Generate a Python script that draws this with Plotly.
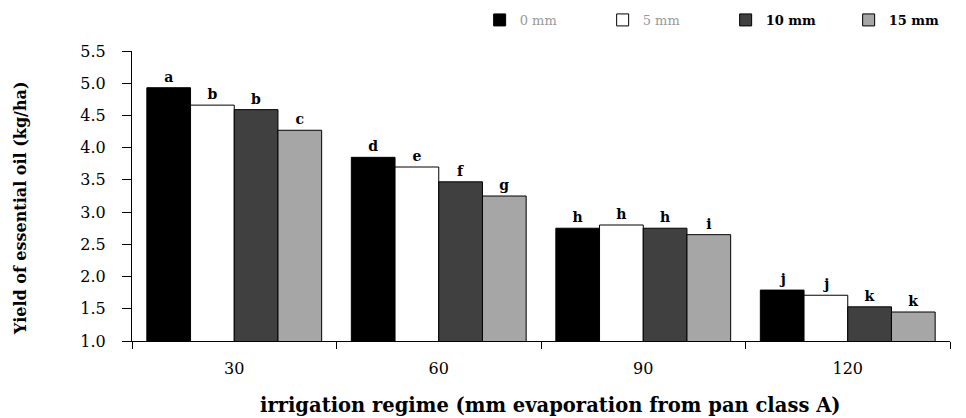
import plotly.graph_objects as go

categories = ["30", "60", "90", "120"]
series_names = ["0 mm", "5 mm", "10 mm", "15 mm"]
v0 = [4.93, 3.85, 2.75, 1.79]
v5 = [4.66, 3.70, 2.80, 1.71]
v10 = [4.59, 3.47, 2.75, 1.53]
v15 = [4.27, 3.25, 2.65, 1.45]
l0 = ["a", "d", "h", "j"]
l5 = ["b", "e", "h", "j"]
l10 = ["b", "f", "h", "k"]
l15 = ["c", "g", "i", "k"]
colors = ["#000000", "#ffffff", "#404040", "#a6a6a6"]
legend_styles = ["{}", "{}", "<span style='color:black'><b>{}</b></span>",
                 "<span style='color:black'><b>{}</b></span>"]

ff = "DejaVu Serif, Liberation Serif, serif"

fig = go.Figure()
for name, vals, labs, col, sty in zip(series_names, [v0, v5, v10, v15],
                                      [l0, l5, l10, l15], colors, legend_styles):
    fig.add_trace(go.Bar(
        name=sty.format(name), x=categories, y=vals, text=labs,
        textposition="outside", cliponaxis=False,
        textfont=dict(family=ff, size=14, color="black", weight="bold"),
        marker=dict(color=col, line=dict(color="black", width=1)),
    ))

fig.update_layout(
    width=958, height=410,
    margin=dict(l=124, r=16, t=43, b=77, autoexpand=False),
    paper_bgcolor="white", plot_bgcolor="white",
    barmode="group", bargap=0.145, bargroupgap=0,
    font=dict(family=ff, size=13, color="black"),
    showlegend=True,
    legend=dict(orientation="h", x=0.425, xanchor="left", y=1.107, yanchor="middle",
                entrywidth=78, entrywidthmode="pixels",
                font=dict(family=ff, size=13, color="#999999"),
                bgcolor="rgba(0,0,0,0)"),
    annotations=[
        dict(text="<b>Yield of essential oil (kg/ha)</b>", textangle=-90,
             xref="paper", yref="paper", x=(12 - 124) / 818, y=(333 - 200) / 290,
             xanchor="center", yanchor="middle", showarrow=False,
             font=dict(family=ff, size=16, color="black")),
        dict(text="<b>irrigation regime (mm evaporation from pan class A)</b>",
             xref="paper", yref="paper", x=0.512, y=(333 - 397) / 290,
             xanchor="center", yanchor="middle", showarrow=False,
             font=dict(family=ff, size=19.5, color="black")),
    ],
)
fig.update_xaxes(
    showline=True, linecolor="black", linewidth=1,
    ticks="outside", tickson="boundaries", ticklen=7, tickcolor="black",
    showgrid=False, automargin=False,
    tickfont=dict(family=ff, size=16),
    ticklabelstandoff=13,
)
fig.update_yaxes(
    range=[1.0, 5.5], dtick=0.5, tick0=1.0, tickformat=".1f",
    showline=True, linecolor="black", linewidth=1,
    ticks="outside", ticklen=9, tickcolor="black",
    showgrid=False, zeroline=False, automargin=False,
    tickfont=dict(family=ff, size=16),
    ticklabelstandoff=13,
)

fig.write_html("out.html")
